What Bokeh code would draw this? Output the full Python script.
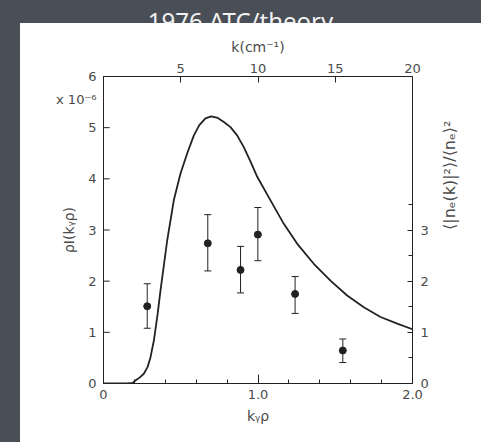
import math
from bokeh.plotting import figure
from bokeh.models import (Range1d, LinearAxis, FixedTicker, Div, Whisker,
                          ColumnDataSource, TeeHead)
from bokeh.layouts import column, row
from bokeh.embed import file_html
from bokeh.resources import INLINE

BG = "#4a4e57"
INK = "#222222"
TXT = "#4a4a4a"
FONT = "DejaVu Sans"

# theory curve, k_y*rho vs rho*I(k_y rho) [x 1e-6]
curve_x = [0.0, 0.10, 0.15, 0.19, 0.207, 0.235, 0.261, 0.285, 0.304, 0.326, 0.35, 0.369,
           0.412, 0.455, 0.498, 0.542, 0.585, 0.62, 0.66, 0.697, 0.74, 0.779, 0.822, 0.865,
           0.908, 0.951, 0.995, 1.081, 1.167, 1.254, 1.361, 1.469, 1.577,
           1.685, 1.793, 1.901, 2.0]
curve_y = [0.0, 0.0, 0.0, 0.01, 0.06, 0.12, 0.19, 0.32, 0.51, 0.84, 1.35, 1.82,
           2.79, 3.58, 4.10, 4.50, 4.85, 5.05, 5.18, 5.22, 5.19, 5.11, 5.01, 4.85,
           4.62, 4.34, 4.04, 3.58, 3.12, 2.73, 2.34, 2.01, 1.72,
           1.49, 1.30, 1.17, 1.06]

# measured points with error bars
pts_x = [0.283, 0.675, 0.887, 0.999, 1.24, 1.549]
pts_y = [1.51, 2.74, 2.22, 2.91, 1.75, 0.645]
pts_lo = [1.08, 2.20, 1.77, 2.40, 1.37, 0.41]
pts_hi = [1.95, 3.30, 2.68, 3.44, 2.09, 0.87]

bottom_ticks = [0, 1, 2]
bottom_minor = [0.2, 0.4, 0.6, 0.8, 1.2, 1.4, 1.6, 1.8]
bottom_labels = {0: "0", 1: "1.0", 2: "2.0"}
left_ticks = [0, 1, 2, 3, 4, 5, 6]
scale_pos = 5.55
scale_text = "x 10⁻⁶"
top_ticks = [5, 10, 15, 20]
right_ticks = [0, 1, 2, 3]
right_minor = [0.5, 1.5, 2.5, 3.5]

p = figure(width=461, height=419, x_range=Range1d(0, 2.0), y_range=Range1d(0, 6),
           output_backend="svg", toolbar_location=None,
           min_border_left=83, min_border_right=69, min_border_top=53, min_border_bottom=59,
           background_fill_color="white", border_fill_color="white")
p.outline_line_color = INK
p.grid.visible = False
p.extra_x_ranges = {"k": Range1d(0, 20)}
p.extra_y_ranges = {"n": Range1d(0, 6)}

def style(ax, size="13px"):
    ax.axis_line_color = INK
    ax.major_tick_line_color = INK
    ax.minor_tick_line_color = INK
    ax.major_tick_out = 0
    ax.minor_tick_out = 0
    ax.major_tick_in = 6
    ax.minor_tick_in = 4
    ax.major_label_text_font = FONT
    ax.major_label_text_font_size = size
    ax.major_label_text_color = TXT
    ax.axis_label_text_font = FONT
    ax.axis_label_text_font_size = "14px"
    ax.axis_label_text_font_style = "normal"
    ax.axis_label_text_color = TXT

xa = p.xaxis[0]
xa.ticker = FixedTicker(ticks=bottom_ticks, minor_ticks=bottom_minor)
xa.major_label_overrides = bottom_labels
xa.axis_label = "kᵧρ"
style(xa)
xa.major_tick_in = 9
xa.major_label_standoff = 6
xa.axis_label_standoff = 6

# left axis: numeric ticks plus the "x 10^-6" scale note as an extra tick label
ya = p.yaxis[0]
ya.ticker = FixedTicker(ticks=left_ticks + [scale_pos], minor_ticks=[])
ya.major_label_overrides = {scale_pos: scale_text}
ya.axis_label = "ρI(kᵧρ)"
style(ya)
ya.major_tick_line_color = None
ya.major_label_standoff = 7
ya.axis_label_standoff = -24

# inward tick marks of the left axis, drawn at the tick values
n_lt = len(left_ticks)
p.segment(x0=[0.0] * n_lt, x1=[0.04] * n_lt, y0=left_ticks, y1=left_ticks,
          line_color=INK, line_width=1)

ta = LinearAxis(x_range_name="k", ticker=FixedTicker(ticks=top_ticks, minor_ticks=[]),
                axis_label="k(cm⁻¹)")
style(ta)
ta.major_label_standoff = 4
ta.axis_label_standoff = 6
p.add_layout(ta, "above")

ra = LinearAxis(y_range_name="n", ticker=FixedTicker(ticks=right_ticks, minor_ticks=right_minor),
                axis_label="⟨|nₑ(k)|²⟩/⟨nₑ⟩²")
style(ra)
ra.axis_label_text_font_size = "16px"
ra.axis_label_orientation = math.pi / 2
ra.major_tick_in = 5
ra.major_label_standoff = 8
ra.axis_label_standoff = 18
p.add_layout(ra, "right")

p.line(curve_x, curve_y, line_color=INK, line_width=1.8)

src = ColumnDataSource(dict(x=pts_x, y=pts_y, lo=pts_lo, hi=pts_hi))
wh = Whisker(source=src, base="x", lower="lo", upper="hi", line_color=INK, line_width=1,
             upper_head=TeeHead(size=7, line_color=INK, line_width=1),
             lower_head=TeeHead(size=7, line_color=INK, line_width=1))
p.add_layout(wh)
p.scatter("x", "y", source=src, size=7, color=INK)

title = Div(text='<div style="width:481px;height:23px;overflow:hidden;color:#f2f2f2;'
                 'font-family:\'Noto Sans\';font-size:24px;line-height:24px;text-align:center;'
                 'padding-top:9px;box-sizing:border-box;">1976 ATC/theory</div>',
            width=481, height=23,
            styles={"background-color": BG, "overflow": "hidden", "margin": "0", "padding": "0"})
left = Div(text="", width=20, height=419,
           styles={"background-color": BG, "margin": "0", "padding": "0"})

layout = column(title, row(left, p, spacing=0), spacing=0)

open("out.html", "w").write(file_html(layout, INLINE))
